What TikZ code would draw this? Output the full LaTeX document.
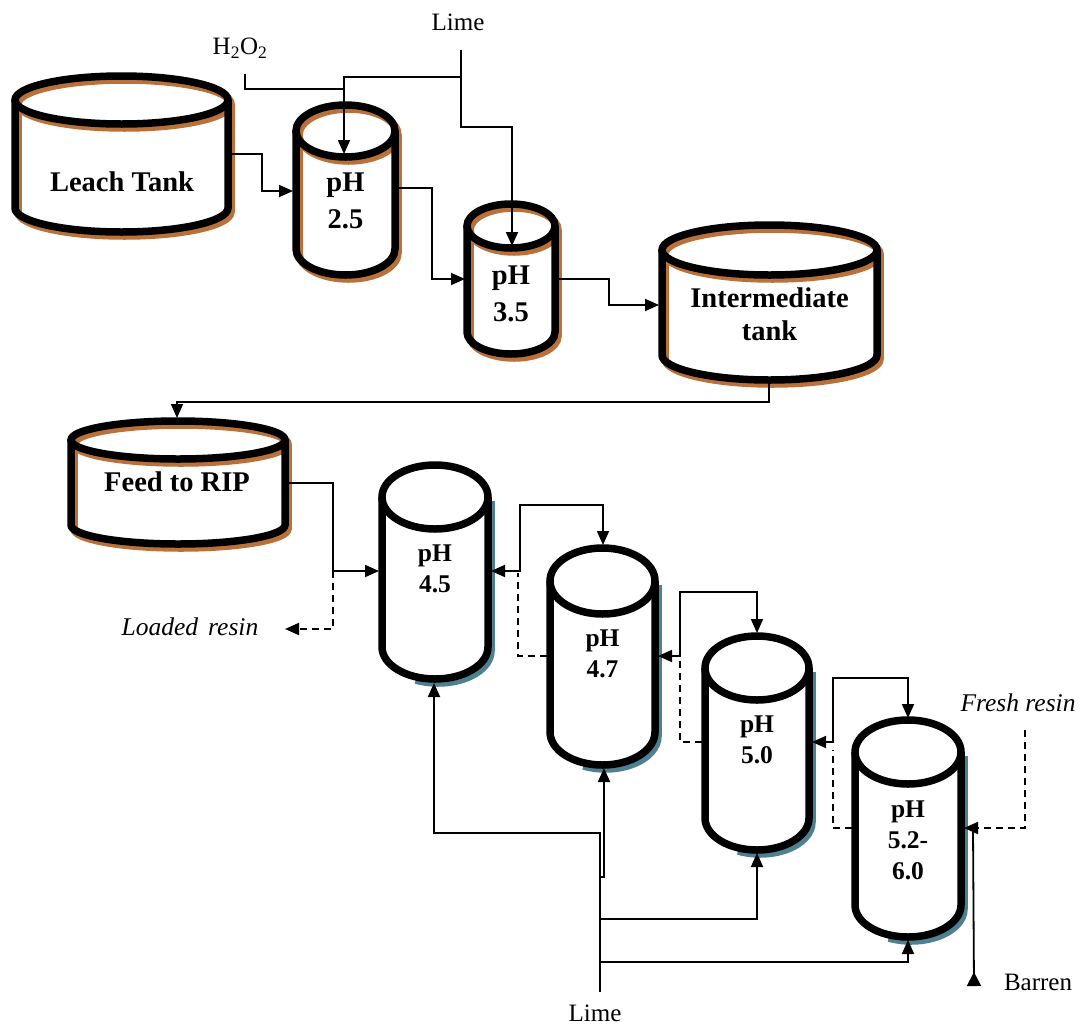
\documentclass[tikz,border=0pt]{standalone}
\usepackage{fontspec}
\setmainfont{Liberation Serif}
\usetikzlibrary{arrows.meta}
\definecolor{shbrown}{RGB}{186,112,58}
\definecolor{shblue}{RGB}{78,128,145}
\tikzset{
  tankline/.style={line width=7.5pt},
  pipe/.style={line width=1.8pt},
  tip/.tip={Triangle[length=14pt,width=12pt]},
  flow/.style={pipe,-tip},
  flowboth/.style={pipe,tip-tip},
  resin/.style={line width=1.8pt,dash pattern=on 7pt off 5pt},
  bigtxt/.style={font={\fontsize{28.5}{37}\selectfont\bfseries},align=center,inner sep=0pt},
  smtxt/.style={font={\fontsize{25.5}{31}\selectfont\bfseries},align=center,inner sep=0pt},
  lbl/.style={font={\fontsize{25}{30}\selectfont},inner sep=0pt},
  itl/.style={font={\fontsize{25.5}{30}\selectfont\itshape},inner sep=0pt}
}
\newcommand\tkfill[5]{\fill[white] (#1-#4,#2) -- (#1-#4,#3) arc[start angle=180,end angle=0,x radius=#4,y radius=#5] -- (#1+#4,#2) arc[start angle=0,end angle=-180,x radius=#4,y radius=#5] -- cycle;}
\newcommand\tkout[5]{\draw (#1,#2) ellipse[x radius=#4,y radius=#5];
  \draw (#1-#4,#2) -- (#1-#4,#3) arc[start angle=180,end angle=0,x radius=#4,y radius=#5] -- (#1+#4,#2);}
\newcommand\brtank[5]{\tkfill{#1}{#2}{#3}{#4}{#5}
  \begin{scope}[shift={(3,4)},shbrown,tankline]\tkout{#1}{#2}{#3}{#4}{#5}\end{scope}
  \begin{scope}[tankline]\tkout{#1}{#2}{#3}{#4}{#5}\end{scope}}
\newcommand\bltank[5]{\tkfill{#1}{#2}{#3}{#4}{#5}
  \begin{scope}[shift={(3,4)},shblue,tankline]\draw (#1+#4,#2) -- (#1+#4,#3) arc[start angle=0,end angle=115,x radius=#4,y radius=#5];\end{scope}
  \begin{scope}[tankline]\tkout{#1}{#2}{#3}{#4}{#5}\end{scope}}
\begin{document}
\begin{tikzpicture}[x=1pt,y=-1pt]
\useasboundingbox (0,0) rectangle (1083,1026);
% tanks
\brtank{121.5}{100}{208}{106.5}{24}
\brtank{345.5}{131}{249}{49.5}{26}
\brtank{511}{226}{332}{44}{22}
\brtank{769.5}{250}{355}{107.5}{25}
\brtank{178}{440}{525}{107}{19}
\bltank{435}{497}{647}{53}{32}
\bltank{602.5}{581}{732}{52.5}{33}
\bltank{757}{668}{818}{52}{32}
\bltank{908}{752}{905}{53}{32}
% tank labels
\node[bigtxt] (tLeach) at (122,182) {Leach Tank};
\node[bigtxt] (t25) at (345.5,201) {pH\\2.5};
\node[bigtxt] (t35) at (511,294) {pH\\3.5};
\node[bigtxt] (tInt) at (769.5,314) {Intermediate\\[-4pt]tank};
\node[bigtxt] (tFeed) at (177,482) {Feed to RIP};
\node[smtxt] (t45) at (435,569) {pH\\4.5};
\node[smtxt] (t47) at (602.5,654) {pH\\4.7};
\node[smtxt] (t50) at (757,740) {pH\\5.0};
\node[smtxt] (t52) at (908,840) {pH\\5.2-\\6.0};
% other labels
\node[lbl] (limeT) at (458,22) {Lime};
\node[lbl] (h2o2) at (240,48) {H\textsubscript{2}O\textsubscript{2}};
\node[lbl] (limeB) at (595,1013) {Lime};
\node[lbl] (barren) at (1038,982) {Barren};
\node[itl] (fresh) at (1018,703) {Fresh resin};
\node[itl] (loaded) at (190,627) {Loaded\hspace{10pt}resin};
% ports
\coordinate (h2o2s) at (245,74);
\coordinate (limeTs) at (461,50);
\coordinate (leachR) at (231,154);
\coordinate (p25T) at (344,154);
\coordinate (p25L) at (293,191);
\coordinate (p25R) at (398,188);
\coordinate (p35T) at (512,246);
\coordinate (p35L) at (465,279);
\coordinate (p35R) at (558,279);
\coordinate (intL) at (659,305);
\coordinate (intB) at (769,383);
\coordinate (feedT) at (177,418);
\coordinate (feedR) at (288,483);
\coordinate (p45L) at (379,571);
\coordinate (p45R) at (491,571);
\coordinate (p45B) at (434,683);
\coordinate (loadedE) at (285,629);
\coordinate (p47T) at (603,545);
\coordinate (p47L) at (547,656);
\coordinate (p47R) at (658,656);
\coordinate (p47B) at (604,768);
\coordinate (p50T) at (757,633);
\coordinate (p50L) at (702,742);
\coordinate (p50R) at (812,742);
\coordinate (p50B) at (757,853);
\coordinate (p52T) at (908,718);
\coordinate (p52L) at (852,828);
\coordinate (p52R) at (964,828);
\coordinate (p52B) at (908,940);
\coordinate (p52Rb) at (973,830);
\coordinate (freshS) at (1025,730);
\coordinate (barrenE) at (974,986);
\coordinate (limeBs) at (600,992);
% top connectors
\draw[pipe] (h2o2s) |- (344,89);
\draw[flow] (limeTs) -- (461,127) -| (p35T);
\draw[flow] (461,77) -| (p25T);
\draw[flow] (leachR) -- (262,154) |- (p25L);
\draw[flow] (p25R) -- (432,188) |- (p35L);
\draw[flow] (p35R) -- (609,279) |- (intL);
\draw[flow] (intB) -- (769,402) -| (feedT);
% RIP train
\draw[flow] (feedR) -| (333,571) -- (p45L);
\draw[resin,-tip] (333,571) |- (loadedE);
\draw[flowboth] (p45R) -| (520,505) -| (p47T);
\draw[resin] (p47L) -| (518,573);
\draw[flowboth] (p47R) -| (680,592) -| (p50T);
\draw[resin] (p50L) -| (680,660);
\draw[flowboth] (p50R) -| (833,678) -| (p52T);
\draw[resin] (p52L) -| (833,750);
\draw[resin,-tip] (freshS) |- (p52R);
\draw[pipe,-{Triangle[reversed,length=14pt,width=14pt]}] (p52Rb) -- (barrenE);
% lime bottom
\draw[flow] (limeBs) -- (600,833) -| (p45B);
\draw[flow] (600,877) -| (p47B);
\draw[flow] (600,919) -| (p50B);
\draw[flow] (600,962) -| (p52B);
\end{tikzpicture}
\end{document}
